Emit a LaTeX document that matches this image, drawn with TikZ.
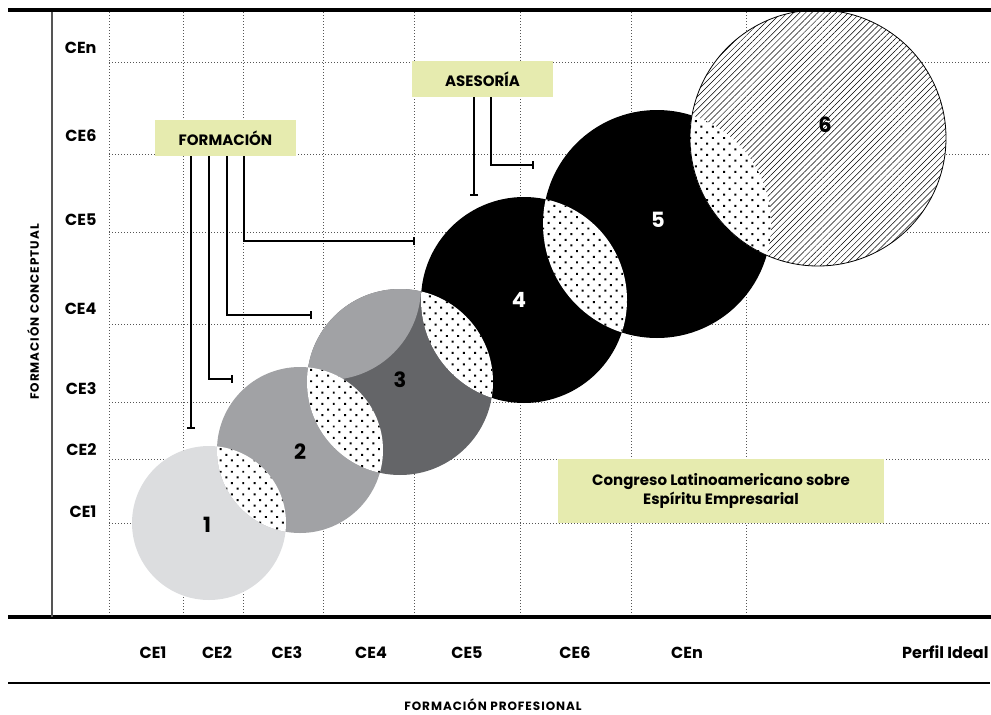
\documentclass[tikz,border=0pt]{standalone}
\usepackage{fontspec}
\setmainfont{Poppins}
\usetikzlibrary{arrows.meta,patterns.meta}

\definecolor{boxgreen}{HTML}{E6EBAF}
\definecolor{grayA}{HTML}{DCDDDF}
\definecolor{grayB}{HTML}{A1A2A5}
\definecolor{grayC}{HTML}{646568}
\definecolor{gridgray}{HTML}{555555}

\tikzset{
	gridline/.style = {gridgray, line width = 0.9pt, dash pattern = on 0.9pt off 2.1pt},
	axislabel/.style = {font = \fontsize{16}{18}\selectfont\bfseries},
	numlabel/.style = {font = \fontsize{21}{23}\selectfont\bfseries},
	axistitle/.style = {font = \fontsize{12}{14}\selectfont\bfseries\addfontfeature{LetterSpace = 8}},
	tagbox/.style = {fill = boxgreen, inner sep = 0pt, align = center,
		font = \fontsize{15}{19}\selectfont\bfseries},
	link/.style = {line width = 1.8pt, -{Bar[width = 8pt]}},
	lens/.style = {fill = white, postaction = {pattern = {Dots[radius = 1.4pt, distance = 8pt, angle = 45]}}},
	hatched/.style = {fill = white, postaction = {pattern = {Lines[angle = 45, distance = 4.3pt, line width = 0.5pt]}}}
}

\begin{document}
\begin{tikzpicture}[x = 1pt, y = -1pt]
	\useasboundingbox (0,0) rectangle (991,715);

	\foreach \gx in {109,183,243,323,414,520,631,746}
		\draw[gridline] (\gx,12) -- (\gx,615);
	\foreach \gy in {62,154,232,324,402,459,523}
		\draw[gridline] (109,\gy) -- (991,\gy);

	\coordinate (c1) at (209,523);
	\coordinate (c2) at (300,450);
	\coordinate (c3) at (400,382);
	\coordinate (c4) at (524,300);
	\coordinate (c5) at (657,224);
	\coordinate (c6) at (818,138);

	\fill[grayA] (c1) circle (77);
	\fill[grayB] (c2) circle (83);
	\fill[grayC] (c3) circle (93);
	\begin{scope}
		\clip (c3) circle (93);
		\fill[grayB] (328,287) circle (93);
	\end{scope}
	\fill[black] (c4) circle (103);
	\fill[black] (c5) circle (114);
	\fill[hatched] (c6) circle (128);

	\foreach \ca/\ra/\cb/\rb in {c1/77/c2/83, c2/83/c3/93, c3/93/c4/103, c4/103/c5/114, c5/114/c6/128}
	{
		\begin{scope}
			\clip (\ca) circle (\ra);
			\fill[lens] (\cb) circle (\rb);
		\end{scope}
	}
	\draw[line width = 0.8pt] (c6) circle (128);

	\node[numlabel] (n1) at (207,525) {1};
	\node[numlabel] (n2) at (300,452) {2};
	\node[numlabel] (n3) at (400,380) {3};
	\node[numlabel, white] (n4) at (519,300) {4};
	\node[numlabel, white] (n5) at (658,220) {5};
	\node[numlabel] (n6) at (825,125) {6};

	\draw[line width = 3.5pt] (8,10) -- (991,10);
	\draw[line width = 3.5pt] (8,617) -- (991,617);
	\draw[line width = 1.3pt] (8,683) -- (990,683);
	\draw[line width = 2pt, gridgray] (52,12) -- (52,617);

	\foreach \t/\yy in {CEn/48, CE6/136, CE5/220, CE4/309, CE3/389, CE2/450, CE1/512}
		\node[axislabel, anchor = east] (y\t) at (100,\yy) {\t};
	\foreach \t/\xx in {CE1/153, CE2/217, CE3/287, CE4/371, CE5/467, CE6/575, CEn/687}
		\node[axislabel] (x\t) at (\xx,653) {\t};
	\node[axislabel, anchor = east] (ideal) at (992,652) {Perfil Ideal};

	\node[axistitle, rotate = 90] (concept) at (33,312) {FORMACIÓN CONCEPTUAL};
	\node[axistitle] (prof) at (493,705) {FORMACIÓN PROFESIONAL};

	\node[tagbox, minimum width = 141pt, minimum height = 36pt] (form) at (225.5,138) {FORMACIÓN};
	\node[tagbox, minimum width = 141pt, minimum height = 36pt] (ases) at (482.5,79) {ASESORÍA};
	\node[tagbox, minimum width = 326pt, minimum height = 64pt] (cong) at (721,491)
		{Congreso Latinoamericano sobre\\Espíritu Empresarial};

	\coordinate (fa) at (191,429);
	\coordinate (fb) at (233,379);
	\coordinate (fc) at (312,315);
	\coordinate (fd) at (415,241);
	\coordinate (aa) at (474,196);
	\coordinate (ab) at (534,165);

	\draw[link] ([xshift = -34.5pt]form.south) -- (fa);
	\draw[link] ([xshift = -16.5pt]form.south) |- (fb);
	\draw[link] ([xshift = 1.5pt]form.south) |- (fc);
	\draw[link] ([xshift = 18.5pt]form.south) |- (fd);
	\draw[link] ([xshift = -8.5pt]ases.south) -- (aa);
	\draw[link] ([xshift = 8.5pt]ases.south) |- (ab);
\end{tikzpicture}
\end{document}
